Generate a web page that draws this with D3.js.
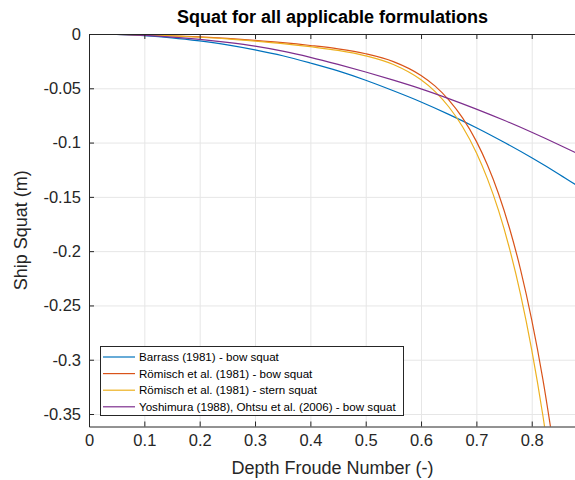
<!DOCTYPE html>
<html>
<head>
<meta charset="utf-8">
<script src="https://cdn.jsdelivr.net/npm/d3@7"></script>
<style>
  body { margin: 0; background: #fff; }
  svg { display: block; font-family: "Liberation Sans", Arial, Helvetica, sans-serif; }
</style>
</head>
<body>
<div id="chart"></div>
<script>
// Depth Froude numbers
const fnh = [0, 0.05, 0.1, 0.15, 0.2, 0.25, 0.3, 0.35, 0.4, 0.45, 0.5, 0.55, 0.6, 0.65, 0.7, 0.75, 0.8, 0.85, 0.88];
const fnhRomisch = [0, 0.05, 0.1, 0.15, 0.2, 0.25, 0.3, 0.35, 0.4, 0.45, 0.5, 0.55, 0.6, 0.625, 0.65, 0.675, 0.7, 0.72, 0.74, 0.76, 0.78, 0.8, 0.82, 0.84];

// squat in m
const barrassBow = [0, -0.0003, -0.0015, -0.0035, -0.0064, -0.0100, -0.0146, -0.0200, -0.0267, -0.0340, -0.0426, -0.0523, -0.0626, -0.0740, -0.0863, -0.0997, -0.1140, -0.1293, -0.1390];
const romischBow = [0, -0.00025, -0.0008, -0.0016, -0.0027, -0.0041, -0.0059, -0.0080, -0.0106, -0.0137, -0.0182, -0.0254, -0.0382, -0.0478, -0.0606, -0.0773, -0.0989, -0.1207, -0.1471, -0.1791, -0.2174, -0.2633, -0.3176, -0.3820];
const romischStern = [0, -0.0003, -0.0009, -0.0018, -0.0030, -0.0045, -0.0065, -0.0088, -0.0117, -0.0151, -0.0201, -0.0281, -0.0422, -0.0528, -0.0670, -0.0854, -0.1093, -0.1334, -0.1625, -0.1979, -0.2402, -0.2909, -0.3509, -0.4220];
const yoshimuraBow = [0, -0.0003, -0.0012, -0.0028, -0.0050, -0.0078, -0.0112, -0.0158, -0.0215, -0.0280, -0.0350, -0.0425, -0.0505, -0.0595, -0.0692, -0.0795, -0.0905, -0.1022, -0.1095];

const seriesNames = [
  "Barrass (1981) - bow squat",
  "Römisch et al. (1981) - bow squat",
  "Römisch et al. (1981) - stern squat",
  "Yoshimura (1988), Ohtsu et al. (2006) - bow squat"
];
const seriesColors = ["#0072BD", "#D95319", "#EDB120", "#7E2F8E"];

const xTicks = [0, 0.1, 0.2, 0.3, 0.4, 0.5, 0.6, 0.7, 0.8];
const xTickLabels = ["0", "0.1", "0.2", "0.3", "0.4", "0.5", "0.6", "0.7", "0.8"];
const yTicks = [0, -0.05, -0.1, -0.15, -0.2, -0.25, -0.3, -0.35];
const yTickLabels = ["0", "-0.05", "-0.1", "-0.15", "-0.2", "-0.25", "-0.3", "-0.35"];

const series = [
  {x: fnh, y: barrassBow},
  {x: fnhRomisch, y: romischBow},
  {x: fnhRomisch, y: romischStern},
  {x: fnh, y: yoshimuraBow}
].map((s, i) => ({
  name: seriesNames[i],
  color: seriesColors[i],
  points: s.x.map((v, j) => [v, s.y[j]])
}));

// Layout
const width = 575, height = 480;
const plotLeft = 89, plotTop = 34, plotRight = 576, plotBottom = 426.5;

const svg = d3.select("#chart").append("svg")
  .attr("width", width)
  .attr("height", height);

const x = d3.scaleLinear().domain([0, 0.88]).range([plotLeft, plotRight]);
const y = d3.scaleLinear().domain([-0.3615, 0]).range([plotBottom, plotTop]);

// grid
svg.append("g")
  .attr("transform", `translate(0,${plotBottom})`)
  .call(d3.axisBottom(x).tickValues(xTicks).tickSize(-(plotBottom - plotTop)).tickFormat(""))
  .call(g => g.select(".domain").remove())
  .call(g => g.selectAll("line").attr("stroke", "#e6e6e6"));

svg.append("g")
  .attr("transform", `translate(${plotLeft},0)`)
  .call(d3.axisLeft(y).tickValues(yTicks).tickSize(-(plotRight - plotLeft)).tickFormat(""))
  .call(g => g.select(".domain").remove())
  .call(g => g.selectAll("line").attr("stroke", "#e6e6e6"));

// curves
svg.append("clipPath").attr("id", "clip")
  .append("rect")
  .attr("x", plotLeft).attr("y", plotTop)
  .attr("width", plotRight - plotLeft).attr("height", plotBottom - plotTop);

const line = d3.line()
  .x(d => x(d[0]))
  .y(d => y(d[1]))
  .curve(d3.curveMonotoneX);

svg.append("g")
  .attr("clip-path", "url(#clip)")
  .selectAll("path")
  .data(series)
  .join("path")
  .attr("fill", "none")
  .attr("stroke", d => d.color)
  .attr("stroke-width", 1.2)
  .attr("d", d => line(d.points));

// axes
const axisColor = "#262626";

svg.append("g")
  .attr("class", "axis")
  .attr("transform", `translate(0,${plotBottom})`)
  .call(d3.axisBottom(x).tickValues(xTicks).tickSize(-5).tickSizeOuter(0).tickPadding(8)
    .tickFormat((d, i) => xTickLabels[i]));

svg.append("g")
  .attr("class", "axis")
  .attr("transform", `translate(0,${plotTop})`)
  .call(d3.axisTop(x).tickValues(xTicks).tickSize(-5).tickSizeOuter(0).tickFormat(""));

svg.append("g")
  .attr("class", "axis")
  .attr("transform", `translate(${plotLeft},0)`)
  .call(d3.axisLeft(y).tickValues(yTicks).tickSize(-5).tickSizeOuter(0).tickPadding(8)
    .tickFormat((d, i) => yTickLabels[i]));

svg.selectAll(".axis .domain, .axis .tick line").attr("stroke", axisColor);
svg.selectAll(".axis .tick text")
  .attr("fill", axisColor)
  .attr("font-size", 16.5)
  .attr("font-family", "'Liberation Sans', Arial, sans-serif");

// title and labels
svg.append("text")
  .attr("x", (plotLeft + plotRight) / 2)
  .attr("y", 23)
  .attr("text-anchor", "middle")
  .attr("font-size", 18)
  .attr("font-weight", "bold")
  .attr("fill", "#000")
  .text("Squat for all applicable formulations");

svg.append("text")
  .attr("x", (plotLeft + plotRight) / 2)
  .attr("y", 474)
  .attr("text-anchor", "middle")
  .attr("font-size", 18)
  .attr("fill", axisColor)
  .text("Depth Froude Number (-)");

svg.append("text")
  .attr("transform", `translate(27,${(plotTop + plotBottom) / 2}) rotate(-90)`)
  .attr("text-anchor", "middle")
  .attr("font-size", 18)
  .attr("fill", axisColor)
  .text("Ship Squat (m)");

// legend
const legend = svg.append("g");
legend.append("rect")
  .attr("x", 100.5).attr("y", 346.5)
  .attr("width", 303).attr("height", 69)
  .attr("fill", "#fff")
  .attr("stroke", axisColor)
  .attr("stroke-width", 1);

const item = legend.selectAll("g.item")
  .data(series)
  .join("g")
  .attr("class", "item")
  .attr("transform", (d, i) => `translate(0,${357 + i * 16.6})`);

item.append("line")
  .attr("x1", 103).attr("x2", 135)
  .attr("stroke", d => d.color)
  .attr("stroke-width", 1.2);

item.append("text")
  .attr("x", 139)
  .attr("dy", "0.35em")
  .attr("font-size", 11.6)
  .attr("fill", "#000")
  .text(d => d.name);
</script>
</body>
</html>
